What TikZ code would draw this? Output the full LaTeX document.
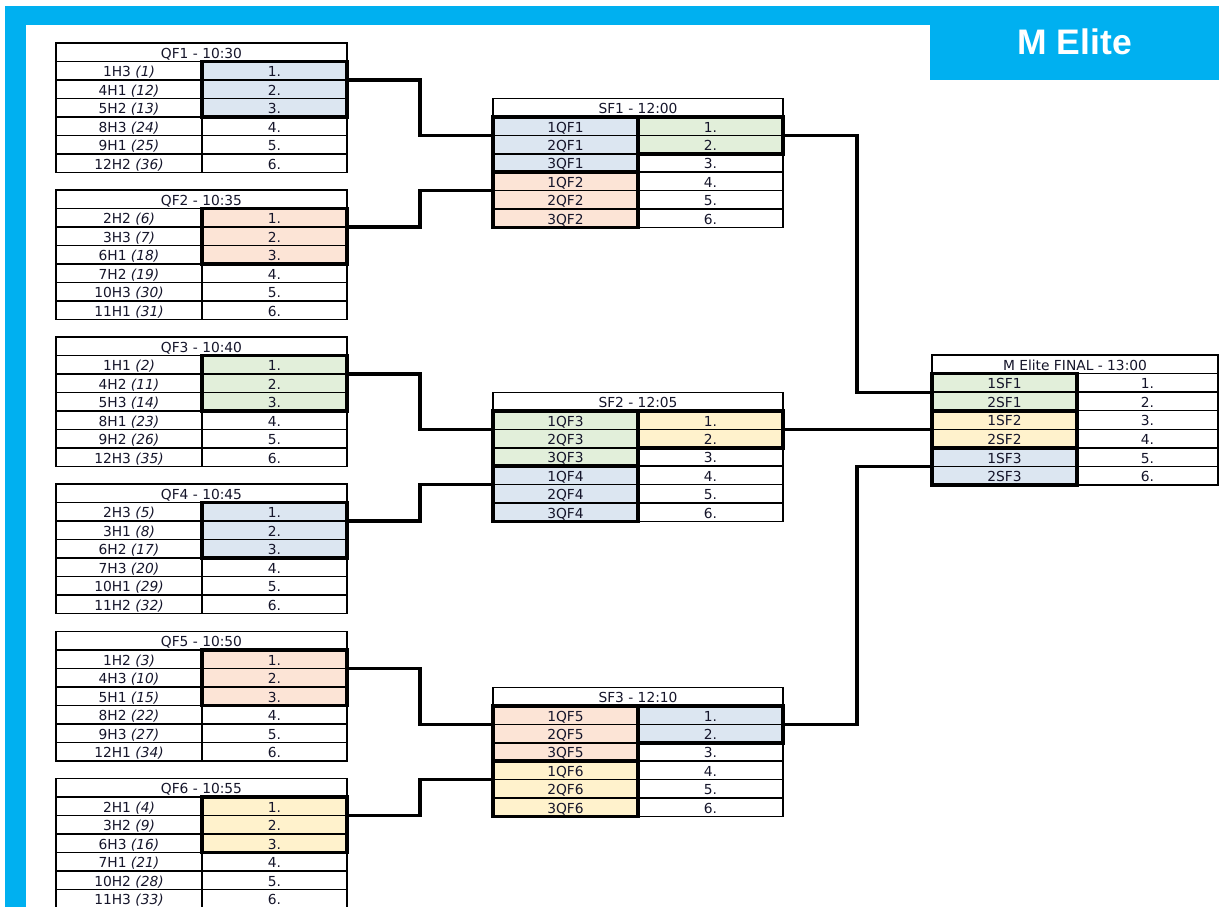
\documentclass[tikz,border=0pt]{standalone}
\usepackage{fontspec}
\setmainfont{DejaVu Sans}
\newfontfamily\titlefont{Liberation Sans}
\definecolor{frameblue}{HTML}{00B0F0}
\definecolor{cblue}{HTML}{DCE6F1}
\definecolor{cpeach}{HTML}{FCE4D6}
\definecolor{cgreen}{HTML}{E2EFDA}
\definecolor{cyellow}{HTML}{FFF2CC}
\definecolor{txt}{HTML}{15152A}
\newcommand\cellfont{\fontsize{13.8pt}{16pt}\selectfont}
\newcommand\seed[1]{\textit{(#1)}}
\tikzset{
  cell/.style={draw, line width=1.5pt, inner sep=0pt, outer sep=0pt, anchor=north west,
    minimum height=18.5pt, text height=11.8pt, text depth=0pt, font=\cellfont, text=txt, fill=white},
  hdr/.style={cell},
  thickbox/.style={line width=3.6pt},
  conn/.style={line width=3.2pt}
}
% QF table: #1 name, #2 top, #3 title, #4 left labels, #5 colour
\newcommand\qftab[5]{%
  \node[hdr, minimum width=291pt] (#1h) at (56,#2) {#3};
  \foreach \t [count=\i] in {#4} {
    \ifnum\i<4 \def\cellcol{#5}\else\def\cellcol{white}\fi
    \node[cell, minimum width=146pt] (#1a\i) at (56,{#2+18.5*\i}) {\t};
    \node[cell, minimum width=145pt, fill=\cellcol] (#1b\i) at (202,{#2+18.5*\i}) {\i.};
  }
  \draw[thickbox] (#1b1.north west) rectangle (#1b3.south east);
}
% SF table: #1 name, #2 top, #3 title, #4 QF a, #5 QF b, #6 col a, #7 col b, #8 col right
\newcommand\sftab[8]{%
  \node[hdr, minimum width=290pt] (#1h) at (493,#2) {#3};
  \foreach \i in {1,...,6} {
    \ifnum\i<4 \def\cellcol{#6}\def\sflab{\i QF#4}\else
      \def\cellcol{#7}\pgfmathtruncatemacro\j{\i-3}\def\sflab{\j QF#5}\fi
    \ifnum\i<3 \def\rcol{#8}\else\def\rcol{white}\fi
    \node[cell, minimum width=145pt, minimum height=18.4pt, fill=\cellcol] (#1a\i) at (493,{#2+18.5+18.4*(\i-1)}) {\sflab};
    \node[cell, minimum width=145pt, minimum height=18.4pt, fill=\rcol] (#1b\i) at (638,{#2+18.5+18.4*(\i-1)}) {\i.};
  }
  \draw[thickbox] (#1a1.north west) rectangle (#1a3.south east);
  \draw[thickbox] (#1a4.north west) rectangle (#1a6.south east);
  \draw[thickbox] (#1b1.north west) rectangle (#1b2.south east);
}
\begin{document}
\begin{tikzpicture}[x=1pt,y=-1pt]
\useasboundingbox (0,0) rectangle (1219,907);
\fill[white] (0,0) rectangle (1219,907);
% frame
\fill[frameblue] (5,6) rectangle (1219,25);
\fill[frameblue] (5,6) rectangle (26,907);
\node[fill=frameblue, anchor=north west, inner sep=0pt, minimum width=289pt, minimum height=74pt,
  text=white, text depth=4pt, font=\titlefont\bfseries\fontsize{35.5pt}{40pt}\selectfont] (title) at (930,6) {M Elite};

% quarter finals
\qftab{qfa}{43}{QF1 - 10:30}{1H3 \seed{1},4H1 \seed{12},5H2 \seed{13},8H3 \seed{24},9H1 \seed{25},12H2 \seed{36}}{cblue}
\qftab{qfb}{190}{QF2 - 10:35}{2H2 \seed{6},3H3 \seed{7},6H1 \seed{18},7H2 \seed{19},10H3 \seed{30},11H1 \seed{31}}{cpeach}
\qftab{qfc}{337}{QF3 - 10:40}{1H1 \seed{2},4H2 \seed{11},5H3 \seed{14},8H1 \seed{23},9H2 \seed{26},12H3 \seed{35}}{cgreen}
\qftab{qfd}{484}{QF4 - 10:45}{2H3 \seed{5},3H1 \seed{8},6H2 \seed{17},7H3 \seed{20},10H1 \seed{29},11H2 \seed{32}}{cblue}
\qftab{qfe}{631.5}{QF5 - 10:50}{1H2 \seed{3},4H3 \seed{10},5H1 \seed{15},8H2 \seed{22},9H3 \seed{27},12H1 \seed{34}}{cpeach}
\qftab{qff}{778.5}{QF6 - 10:55}{2H1 \seed{4},3H2 \seed{9},6H3 \seed{16},7H1 \seed{21},10H2 \seed{28},11H3 \seed{33}}{cyellow}

% semi finals
\sftab{sfa}{98.5}{SF1 - 12:00}{1}{2}{cblue}{cpeach}{cgreen}
\sftab{sfb}{392.5}{SF2 - 12:05}{3}{4}{cgreen}{cblue}{cyellow}
\sftab{sfc}{687.5}{SF3 - 12:10}{5}{6}{cpeach}{cyellow}{cblue}

% final
\node[hdr, minimum width=286pt] (finh) at (932,355) {M Elite FINAL - 13:00};
\foreach \lab/\col [count=\i] in {1SF1/cgreen,2SF1/cgreen,1SF2/cyellow,2SF2/cyellow,1SF3/cblue,2SF3/cblue} {
  \node[cell, minimum width=145pt, minimum height=18.6pt, fill=\col] (fina\i) at (932,{373.5+18.6*(\i-1)}) {\lab};
  \node[cell, minimum width=141pt, minimum height=18.6pt] (finb\i) at (1077,{373.5+18.6*(\i-1)}) {\i.};
}
\draw[thickbox] (fina1.north west) rectangle (fina6.south east);
\draw[thickbox] (fina2.south west) -- (fina2.south east);
\draw[thickbox] (fina4.south west) -- (fina4.south east);

% connectors
\draw[conn] (qfab1.south east) -- ++(73,0) |- (sfaa1.south west);
\draw[conn] (qfbb1.south east) -- ++(73,0) |- (sfaa4.south west);
\draw[conn] (qfcb1.south east) -- ++(73,0) |- (sfba1.south west);
\draw[conn] (qfdb1.south east) -- ++(73,0) |- (sfba4.south west);
\draw[conn] (qfeb1.south east) -- ++(73,0) |- (sfca1.south west);
\draw[conn] (qffb1.south east) -- ++(73,0) |- (sfca4.south west);
\draw[conn] (sfab1.south east) -- ++(74,0) |- (fina1.south west);
\draw[conn] (sfbb1.south east) -- ++(74,0) |- (fina3.south west);
\draw[conn] (sfcb1.south east) -- ++(74,0) |- (fina5.south west);
\end{tikzpicture}
\end{document}
